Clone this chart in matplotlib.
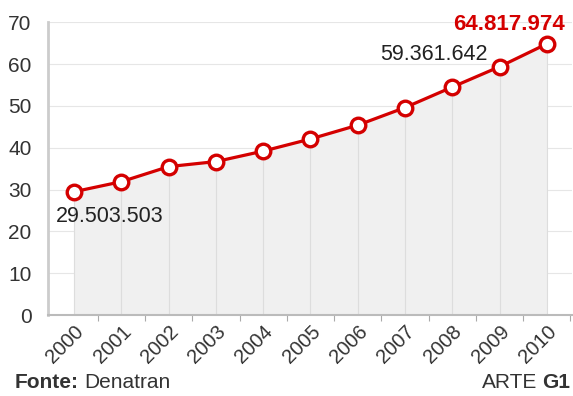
import numpy as np
import matplotlib.pyplot as plt

plt.rcParams['font.family'] = ['Liberation Sans', 'DejaVu Sans']

# frota de veiculos (milhoes)
anos = ['2000', '2001', '2002', '2003', '2004', '2005', '2006', '2007', '2008', '2009', '2010']
frota = [29.5, 31.9, 35.5, 36.7, 39.2, 42.1, 45.4, 49.6, 54.5, 59.36, 64.82]
yticks = [0, 10, 20, 30, 40, 50, 60, 70]

red = '#d40000'
x = np.arange(len(anos))

fig = plt.figure(figsize=(5.73, 3.96), dpi=100)
ax = fig.add_axes([0.084, 0.204, 0.914, 0.740])

ax.fill_between(x, frota, 0, color='#f0f0f0', zorder=1)
ax.plot(x, frota, color=red, lw=2.3, marker='o', ms=10.5, mfc='white', mec=red, mew=2.4, zorder=3)

ax.set_xlim(-0.55, 10.53)
ax.set_ylim(0, 70)
ax.set_yticks(yticks)
ax.set_yticklabels([str(t) for t in yticks], fontsize=15, color='#333333')
ax.set_xticks(x + 0.5, minor=False)
ax.set_xticklabels([])
ax.set_xticks(x, minor=True)
ax.set_xticklabels(anos, minor=True, rotation=45, ha='right', va='top',
                   rotation_mode='anchor', fontsize=14.5, color='#333333')
ax.tick_params(axis='x', which='minor', length=0, pad=5)
ax.tick_params(axis='x', which='major', length=4, color='#aaaaaa')
ax.tick_params(axis='y', length=0, pad=12)

for t in yticks:
    ax.axhline(t, color='#e6e6e6', lw=0.8, zorder=0)
for xi in x:
    ax.axvline(xi, ymax=frota[xi] / 70, color='#dddddd', lw=0.8, zorder=2)

for s in ['top', 'right']:
    ax.spines[s].set_visible(False)
ax.spines['left'].set_color('#cccccc')
ax.spines['left'].set_linewidth(2)
ax.spines['bottom'].set_color('#bbbbbb')
ax.spines['bottom'].set_linewidth(1.5)

ax.text(-0.38, 23.7, '29.503.503', fontsize=15.5, color='#222222', va='center', ha='left')
ax.text(8.75, 62.3, '59.361.642', fontsize=15.5, color='#222222', va='center', ha='right')
ax.text(10.38, 69.4, '64.817.974', fontsize=16, color=red, fontweight='bold', va='center', ha='right')

fig.text(0.025, 0.035, 'Fonte:', fontsize=15, fontweight='bold', color='#333333', va='center')
fig.text(0.147, 0.035, 'Denatran', fontsize=15, color='#333333', va='center')
fig.text(0.938, 0.035, 'ARTE', fontsize=15, color='#333333', va='center', ha='right')
fig.text(0.995, 0.035, 'G1', fontsize=15, fontweight='bold', color='#333333', va='center', ha='right')

fig.savefig('out.png', dpi=100)
